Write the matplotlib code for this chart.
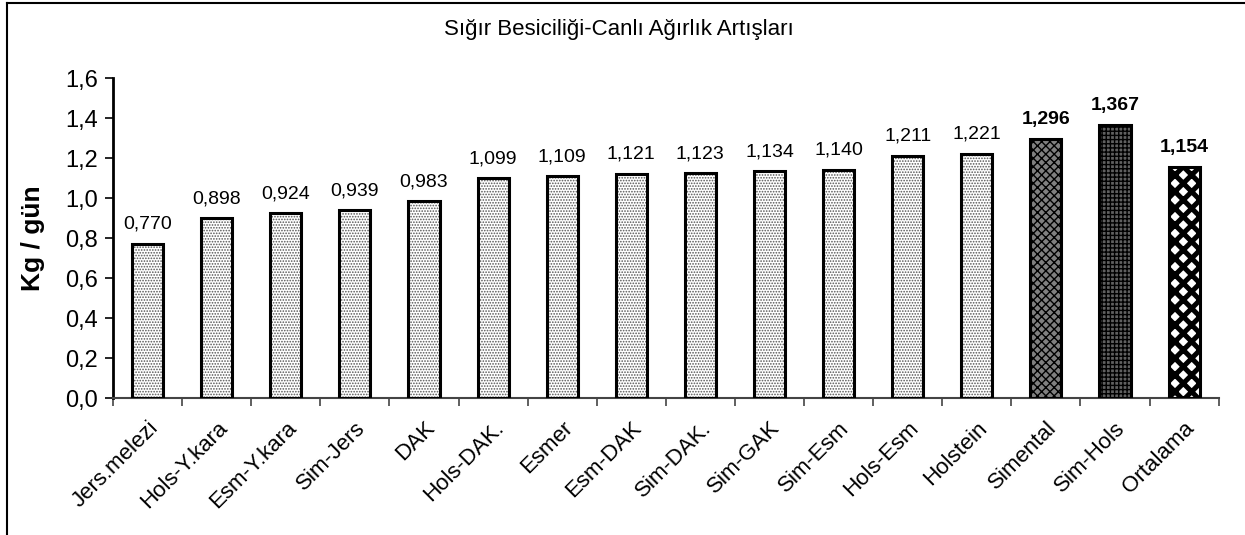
import numpy as np
import matplotlib
matplotlib.use("Agg")
import matplotlib.pyplot as plt
from matplotlib.lines import Line2D

plt.rcParams['font.family'] = ['Liberation Sans', 'DejaVu Sans']

# data
categories = ["Jers.melezi", "Hols-Y.kara", "Esm-Y.kara", "Sim-Jers", "DAK",
              "Hols-DAK.", "Esmer", "Esm-DAK", "Sim-DAK.", "Sim-GAK",
              "Sim-Esm", "Hols-Esm", "Holstein", "Simental", "Sim-Hols",
              "Ortalama"]
values = [0.770, 0.898, 0.924, 0.939, 0.983, 1.099, 1.109, 1.121, 1.123,
          1.134, 1.140, 1.211, 1.221, 1.296, 1.367, 1.154]
bold_labels = ["Simental", "Sim-Hols", "Ortalama"]
yticks = [0.0, 0.2, 0.4, 0.6, 0.8, 1.0, 1.2, 1.4, 1.6]

# fill style per bar: (background, hatch, hatch colour, hatch linewidth)
styles = {"Simental": ("#808080", "xxxx", "black", 1.0),
          "Sim-Hols": ("#606060", "++++", "black", 1.0),
          "Ortalama": ("white", "xx", "black", 3.6)}
default_style = ("white", "......", "#555555", 0.8)

fig = plt.figure(figsize=(12.45, 5.35), dpi=100)
ax = fig.add_axes([0.0908, 0.256, 0.888, 0.598])

x = np.arange(len(categories))
for xi, name, val in zip(x, categories, values):
    bg, hatch, hcol, hlw = styles.get(name, default_style)
    ax.bar(xi, val, width=0.45, color=bg, edgecolor="none", zorder=2)
    with plt.rc_context({'hatch.linewidth': hlw}):
        b = ax.bar(xi, val, width=0.45, color="none", edgecolor=hcol,
                   linewidth=0, hatch=hatch, zorder=3)
        for p in b:
            try:
                p.set_hatch_linewidth(hlw)
            except AttributeError:
                pass
    ax.bar(xi, val, width=0.45, color="none", edgecolor="black",
           linewidth=2.2, zorder=4)
    bold = name in bold_labels
    ax.annotate(f"{val:.3f}".replace(".", ","), (xi, val),
                xytext=(0, 8), textcoords="offset points",
                ha="center", va="bottom", fontsize=14,
                fontweight="bold" if bold else "normal")

ax.set_xlim(-0.5, len(categories) - 0.5)
ax.set_ylim(0, 1.6)
ax.set_yticks(yticks)
ax.set_yticklabels([f"{t:.1f}".replace(".", ",") for t in yticks], fontsize=17)
ax.set_xticks(x)
ax.set_xticklabels(categories, rotation=45, ha="right", rotation_mode="anchor",
                   fontsize=16)
ax.set_xticks(np.arange(len(categories) + 1) - 0.5, minor=True)
ax.tick_params(axis="x", which="major", length=0, pad=14)
ax.tick_params(axis="x", which="minor", length=6, width=1.2, color="#444444")
ax.tick_params(axis="y", length=6, width=1.2, pad=5)

ax.spines["top"].set_visible(False)
ax.spines["right"].set_visible(False)
ax.spines["left"].set_linewidth(2)
ax.spines["bottom"].set_linewidth(1.5)
ax.spines["bottom"].set_color("#444444")

ax.set_ylabel("Kg / gün", fontsize=19, fontweight="bold", labelpad=14)
fig.text(0.497, 0.944, "Sığır Besiciliği-Canlı Ağırlık Artışları",
         ha="center", va="center", fontsize=16)

# figure frame (top and left edges)
fig.add_artist(Line2D([0.006, 1.0], [0.994, 0.994], color="black", lw=1.5,
                      transform=fig.transFigure))
fig.add_artist(Line2D([0.006, 0.006], [0.0, 0.994], color="black", lw=1.5,
                      transform=fig.transFigure))

fig.savefig("out.png", dpi=100)
